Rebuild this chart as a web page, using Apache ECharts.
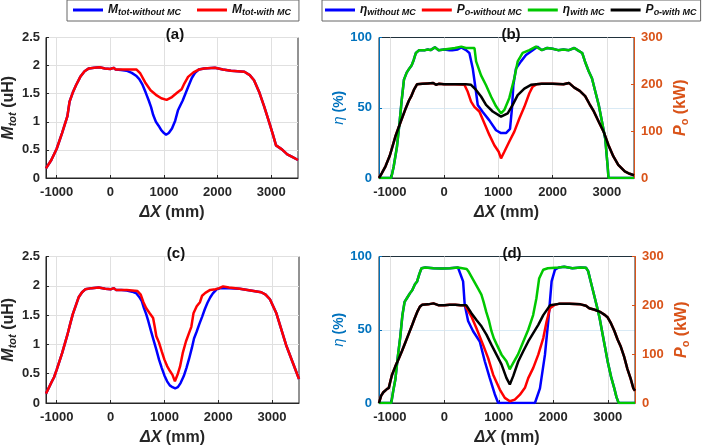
<!DOCTYPE html>
<html>
<head>
<meta charset="utf-8">
<script src="https://cdn.jsdelivr.net/npm/echarts@6/dist/echarts.min.js"></script>
<style>
  html, body { margin: 0; padding: 0; background: #fff; }
  #chart { width: 707px; height: 447px; }
</style>
</head>
<body>
<div id="chart"></div>
<script>
// tick positions on the ΔX axes
const xTicks = [-1000, 0, 1000, 2000, 3000];

// (a) mutual inductance, first case  [ΔX mm, M uH]
const aMWithout = [[-1200,0.17],[-1100,0.32],[-1000,0.52],[-900,0.80],[-800,1.10],[-760,1.36],[-700,1.52],[-640,1.65],[-560,1.80],[-480,1.90],[-400,1.95],[-300,1.96],[-200,1.97],[-100,1.95],[0,1.94],[60,1.96],[100,1.93],[200,1.92],[300,1.91],[400,1.87],[480,1.82],[540,1.76],[600,1.66],[660,1.52],[720,1.37],[760,1.26],[800,1.12],[850,1.00],[900,0.93],[950,0.85],[1000,0.80],[1040,0.77],[1090,0.80],[1150,0.88],[1210,1.02],[1260,1.20],[1300,1.28],[1350,1.38],[1400,1.50],[1460,1.64],[1520,1.78],[1580,1.87],[1650,1.93],[1750,1.95],[1950,1.96],[2100,1.93],[2250,1.91],[2500,1.89],[2600,1.83],[2680,1.74],[2780,1.52],[2870,1.27],[2960,1.00],[3030,0.78],[3090,0.58],[3200,0.51],[3300,0.42],[3400,0.37],[3500,0.32]];
const aMWith = [[-1200,0.17],[-1100,0.32],[-1000,0.52],[-900,0.80],[-800,1.10],[-760,1.36],[-700,1.52],[-640,1.65],[-560,1.80],[-480,1.90],[-400,1.95],[-300,1.96],[-200,1.97],[-100,1.95],[0,1.94],[60,1.96],[100,1.93],[300,1.93],[490,1.93],[560,1.86],[650,1.70],[750,1.56],[850,1.48],[950,1.42],[1050,1.39],[1150,1.44],[1250,1.52],[1330,1.58],[1380,1.68],[1450,1.80],[1550,1.88],[1650,1.93],[1750,1.95],[1950,1.96],[2100,1.93],[2250,1.91],[2500,1.89],[2600,1.83],[2680,1.74],[2780,1.52],[2870,1.27],[2960,1.00],[3030,0.78],[3090,0.58],[3200,0.51],[3300,0.42],[3400,0.37],[3500,0.32]];

// (b) efficiency [%] and output power [kW], first case
const bEtaWithout = [[-1200,0],[-975,0],[-930,8],[-870,22],[-820,40],[-780,56],[-740,70],[-690,75],[-640,78],[-600,80],[-560,84],[-520,89],[-490,88],[-460,91],[-420,91],[-350,91],[-300,91.5],[-250,91],[-170,93],[-100,91],[0,91.5],[100,91],[150,91],[250,91.5],[317,93],[405,91],[466,89],[528,78],[589,61],[620,52],[712,47],[834,41],[957,34],[1049,32],[1141,32],[1215,35],[1252,50],[1276,66],[1325,78],[1417,83],[1509,87.5],[1632,91],[1720,93.5],[1800,91],[1900,92.5],[2000,92],[2100,91],[2200,91.5],[2300,91],[2400,92.5],[2460,91],[2545,89],[2605,82],[2665,76],[2725,71],[2790,61],[2850,52],[2910,40],[2970,28],[3015,8],[3030,0],[3500,0]];
const bPWithout = [[-1200,0],[-1150,10],[-1080,25],[-1000,48],[-900,88],[-800,120],[-720,145],[-650,165],[-600,176],[-550,190],[-500,200],[-400,201],[-300,202],[-200,203],[-150,199],[-100,201],[0,200],[200,200],[374,199],[436,184],[497,163],[558,152],[650,142],[742,117],[834,92],[926,70],[1006,56],[1049,42],[1110,56],[1202,78],[1294,99],[1387,127],[1479,152],[1571,181],[1632,195],[1700,200],[1800,201],[2000,201],[2200,200],[2300,203],[2400,193],[2500,186],[2600,175],[2680,158],[2760,142],[2850,120],[2940,99],[3030,70],[3120,46],[3210,28],[3330,14],[3420,9],[3500,6]];
const bEtaWith = [[-1200,0],[-975,0],[-930,8],[-870,22],[-820,40],[-780,56],[-740,70],[-690,75],[-640,78],[-600,80],[-560,84],[-520,89],[-490,88],[-460,91],[-420,91],[-350,91],[-300,91.5],[-250,91],[-170,93],[-100,91],[0,91.5],[100,92],[200,92.5],[317,93.5],[400,92.5],[560,92.5],[590,83],[681,73],[773,66],[865,58],[957,51],[1049,46],[1110,48.4],[1202,57],[1294,71],[1356,83],[1448,89],[1571,91],[1693,93.5],[1800,91],[1900,92.5],[2000,92],[2100,91],[2200,91.5],[2300,91],[2400,92.5],[2460,91],[2545,89],[2605,82],[2665,76],[2725,71],[2790,61],[2850,52],[2910,40],[2970,28],[3015,8],[3030,0],[3500,0]];
const bPWith = [[-1200,0],[-1150,10],[-1080,25],[-1000,48],[-900,88],[-800,120],[-720,145],[-650,165],[-600,176],[-550,190],[-500,200],[-400,201],[-300,202],[-200,203],[-150,199],[-100,201],[0,200],[200,200],[400,200],[497,199],[589,188],[681,174],[773,156],[896,142],[1049,131],[1172,138],[1264,156],[1356,177],[1479,191],[1601,199],[1800,201],[2000,201],[2200,200],[2300,203],[2400,193],[2500,186],[2600,175],[2680,158],[2760,142],[2850,120],[2940,99],[3030,70],[3120,46],[3210,28],[3330,14],[3420,9],[3500,6]];

// (c) mutual inductance, second case
const cMWithout = [[-1200,0.16],[-1100,0.35],[-1050,0.44],[-1000,0.57],[-900,0.85],[-800,1.17],[-750,1.35],[-700,1.52],[-640,1.68],[-590,1.81],[-530,1.89],[-470,1.94],[-350,1.96],[-220,1.97],[-100,1.95],[0,1.94],[60,1.96],[100,1.93],[200,1.93],[300,1.92],[400,1.90],[480,1.87],[540,1.80],[580,1.74],[620,1.62],[660,1.52],[700,1.40],[750,1.23],[800,1.07],[850,0.91],[900,0.74],[950,0.60],[1000,0.47],[1050,0.37],[1100,0.30],[1150,0.27],[1200,0.25],[1250,0.27],[1300,0.34],[1360,0.46],[1410,0.60],[1460,0.76],[1510,0.94],[1550,1.10],[1600,1.22],[1650,1.35],[1700,1.47],[1750,1.60],[1800,1.71],[1850,1.80],[1900,1.87],[1970,1.94],[2050,1.96],[2150,1.96],[2200,1.96],[2400,1.95],[2600,1.92],[2800,1.89],[2880,1.85],[2960,1.77],[3020,1.65],[3080,1.53],[3170,1.26],[3260,0.99],[3380,0.70],[3500,0.41]];
const cMWith = [[-1200,0.16],[-1100,0.35],[-1050,0.44],[-1000,0.57],[-900,0.85],[-800,1.17],[-750,1.35],[-700,1.52],[-640,1.68],[-590,1.81],[-530,1.89],[-470,1.94],[-350,1.96],[-220,1.97],[-100,1.95],[0,1.94],[60,1.96],[100,1.93],[300,1.93],[500,1.91],[560,1.85],[610,1.72],[660,1.62],[720,1.54],[790,1.45],[820,1.30],[850,1.14],[900,1.03],[950,0.88],[1000,0.74],[1050,0.63],[1100,0.55],[1150,0.48],[1195,0.37],[1250,0.50],[1290,0.62],[1340,0.85],[1400,1.05],[1460,1.20],[1500,1.30],[1540,1.53],[1600,1.65],[1660,1.72],[1700,1.83],[1760,1.88],[1850,1.93],[1950,1.94],[2020,1.96],[2090,1.99],[2200,1.97],[2400,1.95],[2600,1.92],[2800,1.89],[2880,1.85],[2960,1.77],[3020,1.65],[3080,1.53],[3170,1.26],[3260,0.99],[3380,0.70],[3500,0.41]];

// (d) efficiency [%] and output power [kW], second case
const dEtaWithout = [[-1200,0],[-975,0],[-940,8],[-900,16],[-860,30],[-810,45],[-770,60],[-730,69],[-680,72],[-630,75],[-590,77],[-540,81],[-500,83],[-460,88],[-420,92],[-350,92.5],[-200,92],[-50,91.8],[100,92],[250,92.5],[282,92],[344,83],[374,67],[436,56],[528,49],[650,42],[742,28.5],[834,17],[926,6],[988,0],[1663,0],[1755,10],[1847,33],[1908,56],[1969,83],[2031,91],[2100,92.5],[2200,93],[2350,92],[2500,92.5],[2600,92.3],[2640,90],[2680,84],[2720,78],[2760,72],[2800,66],[2850,58],[2900,48],[2950,38],[3000,28],[3060,18],[3120,10],[3160,4],[3200,0],[3500,0]];
const dPWithout = [[-1200,0],[-1160,15],[-1120,22],[-1060,28],[-1020,31],[-990,45],[-960,58],[-900,75],[-840,90],[-780,106],[-720,123],[-660,140],[-600,157],[-550,172],[-500,186],[-450,197],[-410,201],[-300,202],[-200,204],[-100,200],[0,200],[100,201],[200,201],[300,200],[380,200],[405,198],[497,177],[589,153],[711,119],[804,92],[896,58],[1018,27.5],[1110,10.5],[1202,3.7],[1294,7],[1387,17],[1479,31],[1540,51],[1632,72],[1724,99],[1816,133],[1877,167],[1939,194],[2030,201],[2100,203],[2300,203],[2500,202],[2600,199],[2660,194],[2760,191],[2870,186],[2950,180],[3000,175],[3060,163],[3120,148],[3180,130],[3240,115],[3300,95],[3360,70],[3420,50],[3470,30],[3500,25]];
const dEtaWith = [[-1200,0],[-975,0],[-940,8],[-900,16],[-860,30],[-810,45],[-770,60],[-730,69],[-680,72],[-630,75],[-590,77],[-540,81],[-500,83],[-460,88],[-420,92],[-350,92.5],[-200,92],[-50,91.8],[100,92],[250,92.5],[330,92],[410,91.5],[440,90],[530,84],[620,78],[680,74],[720,69],[770,62],[820,56],[865,49],[910,44],[960,40],[1050,33],[1140,28.5],[1200,23],[1260,27],[1350,33],[1450,42],[1540,50],[1630,60],[1690,71.5],[1740,85],[1815,91],[1900,92],[2100,92.5],[2200,93],[2350,92],[2500,92.5],[2600,92.3],[2640,90],[2680,84],[2720,78],[2760,72],[2800,66],[2850,58],[2900,48],[2950,38],[3000,28],[3060,18],[3120,10],[3160,4],[3200,0],[3500,0]];
const dPWith = [[-1200,0],[-1160,15],[-1120,22],[-1060,28],[-1020,31],[-990,45],[-960,58],[-900,75],[-840,90],[-780,106],[-720,123],[-660,140],[-600,157],[-550,172],[-500,186],[-450,197],[-410,201],[-300,202],[-200,204],[-100,200],[0,200],[100,201],[200,201],[300,200],[405,200],[497,184],[589,170],[681,157],[773,140],[865,119],[957,99],[1049,79],[1141,51],[1202,38],[1264,55],[1356,85],[1448,106],[1540,126],[1632,143],[1724,160],[1816,180],[1939,200],[2100,203],[2300,203],[2500,202],[2600,199],[2660,194],[2760,191],[2870,186],[2950,180],[3000,175],[3060,163],[3120,148],[3180,130],[3240,115],[3300,95],[3360,70],[3420,50],[3470,30],[3500,25]];

const FONT = '"Liberation Sans", Arial, sans-serif';
const BLUE_AX = '#0072BD';
const ORANGE_AX = '#D95319';

const richName = {
  i: { fontStyle: 'italic', fontWeight: 'bold', fontSize: 16, fontFamily: FONT },
  s: { fontStyle: 'italic', fontWeight: 'bold', fontSize: 11, fontFamily: FONT, padding: [7, 0, 0, 0] },
  n: { fontWeight: 'bold', fontSize: 16, fontFamily: FONT }
};

function legendFmt(name) {
  let k = name.indexOf('_');
  return '{i|' + name.slice(0, k) + '}{s|' + name.slice(k + 1) + '}';
}

function xAxisFor(grid) {
  return {
    type: 'value', gridIndex: grid, min: -1200, max: 3500,
    name: '{i|ΔX}{n| (mm)}', nameLocation: 'middle', nameGap: 27,
    nameTextStyle: { color: '#262626', rich: richName },
    axisLine: { onZero: false, lineStyle: { color: '#262626' } },
    axisTick: { inside: true, length: 3, customValues: xTicks, lineStyle: { color: '#262626' } },
    axisLabel: { customValues: xTicks, formatter: v => String(v), color: '#262626', fontWeight: 'bold', fontSize: 13, fontFamily: FONT, margin: 8 },
    splitLine: { show: true, lineStyle: { color: '#e0e0e0' } }
  };
}

function mAxis(grid) {
  return {
    type: 'value', gridIndex: grid, min: 0, max: 2.5, interval: 0.5,
    name: '{i|M}{s|tot}{n| (uH)}', nameLocation: 'middle', nameGap: 25,
    nameTextStyle: { color: '#262626', rich: richName },
    axisLine: { show: true, onZero: false, lineStyle: { color: '#262626' } },
    axisTick: { show: true, inside: true, length: 3 },
    axisLabel: { color: '#262626', fontWeight: 'bold', fontSize: 13, fontFamily: FONT, margin: 6 },
    splitLine: { show: true, lineStyle: { color: '#e0e0e0' } }
  };
}

function etaAxis(grid) {
  return {
    type: 'value', gridIndex: grid, min: 0, max: 100, interval: 50, position: 'left',
    name: '{e|η}{n| (%)}', nameLocation: 'middle', nameGap: 20,
    nameTextStyle: { color: BLUE_AX, rich: {
      e: { fontStyle: 'italic', fontSize: 15, fontFamily: FONT, color: BLUE_AX },
      n: { fontWeight: 'bold', fontSize: 14, fontFamily: FONT, color: BLUE_AX }
    } },
    axisLine: { show: true, onZero: false, lineStyle: { color: BLUE_AX } },
    axisTick: { show: true, inside: true, length: 3 },
    axisLabel: { color: BLUE_AX, fontWeight: 'bold', fontSize: 13, fontFamily: FONT, margin: 7 },
    splitLine: { show: true, lineStyle: { color: 'rgba(0,114,189,0.15)' } }
  };
}

function pAxis(grid) {
  return {
    type: 'value', gridIndex: grid, min: 0, max: 300, interval: 100, position: 'right',
    name: '{i|P}{s|o}{n| (kW)}', nameLocation: 'middle', nameGap: 38, nameRotate: 90,
    nameTextStyle: { color: ORANGE_AX, rich: {
      i: { fontStyle: 'italic', fontWeight: 'bold', fontSize: 16, fontFamily: FONT, color: ORANGE_AX },
      s: { fontWeight: 'bold', fontSize: 11, fontFamily: FONT, color: ORANGE_AX, padding: [7, 0, 0, 0] },
      n: { fontWeight: 'bold', fontSize: 16, fontFamily: FONT, color: ORANGE_AX }
    } },
    axisLine: { show: true, onZero: false, lineStyle: { color: ORANGE_AX } },
    axisTick: { show: true, inside: true, length: 3 },
    axisLabel: { color: ORANGE_AX, fontWeight: 'bold', fontSize: 13, fontFamily: FONT, margin: 7 },
    splitLine: { show: false }
  };
}

function line(name, data, color, xi, yi) {
  return {
    type: 'line', name: name, data: data, xAxisIndex: xi, yAxisIndex: yi,
    symbol: 'none', animation: false,
    lineStyle: { color: color, width: 2.5 }, itemStyle: { color: color }
  };
}

const gridBox = { show: true, borderColor: '#262626', borderWidth: 1, backgroundColor: '#fff' };
const titleStyle = { fontSize: 15, fontWeight: 'bold', color: '#111', fontFamily: FONT };

const legendText = {
  fontFamily: FONT,
  rich: {
    i: { fontStyle: 'italic', fontWeight: 'bold', fontSize: 12, fontFamily: FONT, color: '#111' },
    s: { fontStyle: 'italic', fontWeight: 'bold', fontSize: 9, fontFamily: FONT, color: '#111', padding: [5, 0, 0, 0] }
  }
};

const chart = echarts.init(document.getElementById('chart'));
chart.setOption({
  backgroundColor: '#fff',
  animation: false,
  title: [
    { text: '(a)', left: 170, top: 22, textAlign: 'center', textStyle: titleStyle },
    { text: '(b)', left: 506, top: 22, textAlign: 'center', textStyle: titleStyle },
    { text: '(c)', left: 171, top: 241, textAlign: 'center', textStyle: titleStyle },
    { text: '(d)', left: 507, top: 241, textAlign: 'center', textStyle: titleStyle }
  ],
  legend: [
    {
      data: ['M_tot-without MC', 'M_tot-with MC'],
      left: 67, top: 0, padding: [4, 8, 4, 6], itemGap: 16, itemWidth: 30, itemHeight: 3, icon: 'rect',
      borderColor: '#666', borderWidth: 1, backgroundColor: '#fff',
      formatter: legendFmt, textStyle: legendText
    },
    {
      data: ['η_without MC', 'P_o-without MC', 'η_with MC', 'P_o-with MC'],
      left: 322, top: 0, width: 384, padding: [4, 4, 4, 3], itemGap: 6, itemWidth: 30, itemHeight: 3, icon: 'rect',
      borderColor: '#666', borderWidth: 1, backgroundColor: '#fff',
      formatter: legendFmt, textStyle: legendText
    }
  ],
  grid: [
    Object.assign({ left: 43, top: 37.5, width: 255, height: 140.5 }, gridBox),
    Object.assign({ left: 379, top: 37.5, width: 255, height: 140.5 }, gridBox),
    Object.assign({ left: 43, top: 256.5, width: 256, height: 147 }, gridBox),
    Object.assign({ left: 379, top: 256.5, width: 256, height: 147 }, gridBox)
  ],
  xAxis: [xAxisFor(0), xAxisFor(1), xAxisFor(2), xAxisFor(3)],
  yAxis: [mAxis(0), etaAxis(1), pAxis(1), mAxis(2), etaAxis(3), pAxis(3)],
  series: [
    line('M_tot-without MC', aMWithout, '#0000FF', 0, 0),
    line('M_tot-with MC', aMWith, '#FF0000', 0, 0),
    line('η_without MC', bEtaWithout, '#0000FF', 1, 1),
    line('P_o-without MC', bPWithout, '#FF0000', 1, 2),
    line('η_with MC', bEtaWith, '#00C800', 1, 1),
    line('P_o-with MC', bPWith, '#000000', 1, 2),
    line('M_tot-without MC', cMWithout, '#0000FF', 2, 3),
    line('M_tot-with MC', cMWith, '#FF0000', 2, 3),
    line('η_without MC', dEtaWithout, '#0000FF', 3, 4),
    line('P_o-without MC', dPWithout, '#FF0000', 3, 5),
    line('η_with MC', dEtaWith, '#00C800', 3, 4),
    line('P_o-with MC', dPWith, '#000000', 3, 5)
  ]
});
</script>
</body>
</html>
